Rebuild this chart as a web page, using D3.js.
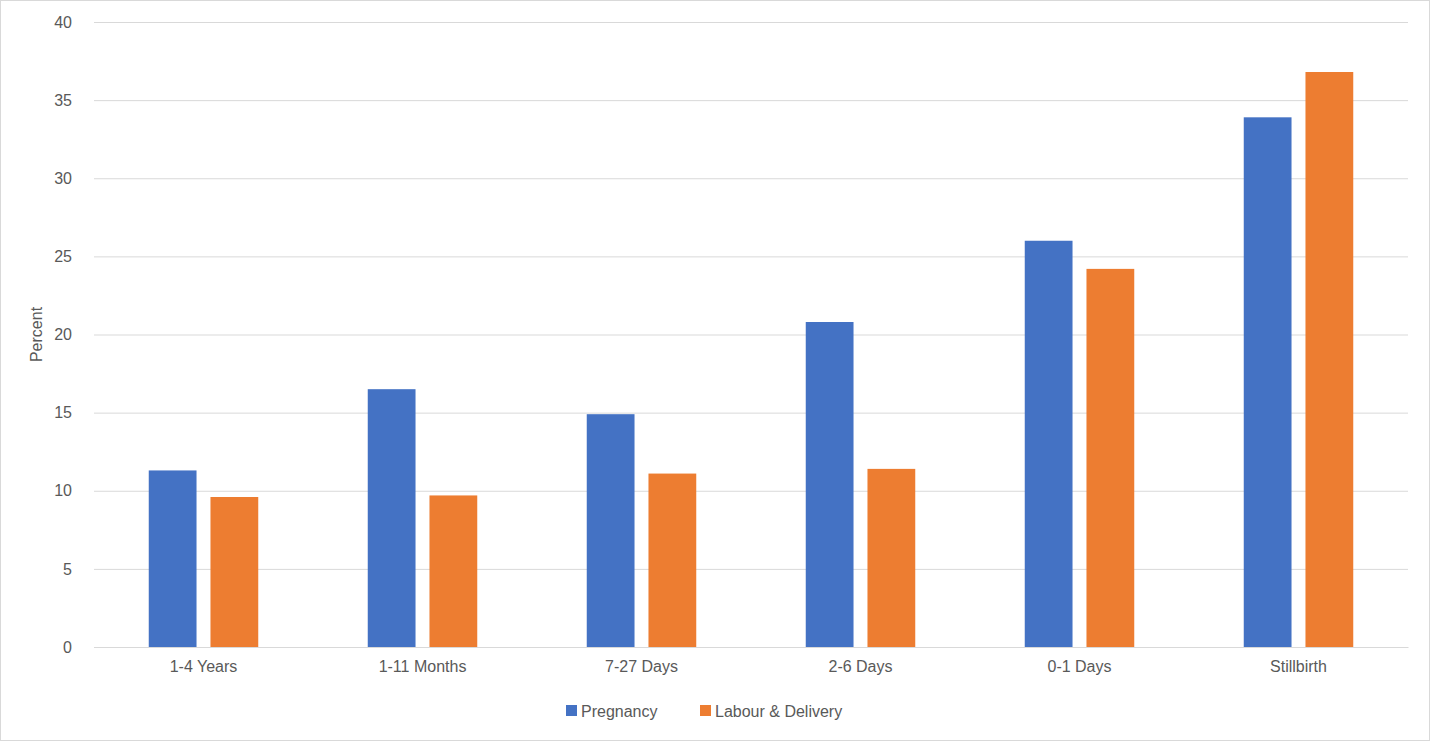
<!DOCTYPE html>
<html>
<head>
<meta charset="utf-8">
<script src="https://d3js.org/d3.v7.min.js"></script>
<style>
body { margin: 0; background: #fff; font-family: "Liberation Sans", Arial, sans-serif; }
</style>
</head>
<body>
<div id="chart"></div>
<script>
// Data
const categories = ["1-4 Years", "1-11 Months", "7-27 Days", "2-6 Days", "0-1 Days", "Stillbirth"];
const seriesNames = ["Pregnancy", "Labour & Delivery"];
const pregnancy = [11.3, 16.5, 14.9, 20.8, 26.0, 33.9];
const labour = [9.6, 9.7, 11.1, 11.4, 24.2, 36.8];
const yTicks = [0, 5, 10, 15, 20, 25, 30, 35, 40];

const colors = ["#4472c4", "#ed7d31"];
const values = [pregnancy, labour];

const width = 1431, height = 742;
const margin = { top: 22, right: 23, bottom: 95, left: 94 };
const innerW = width - margin.left - margin.right;
const innerH = height - margin.top - margin.bottom;

const svg = d3.select("#chart").append("svg")
	.attr("width", width).attr("height", height);

svg.append("rect")
	.attr("x", 0.5).attr("y", 0.5)
	.attr("width", width - 2).attr("height", height - 2)
	.attr("fill", "#fff").attr("stroke", "#d9d9d9");

const g = svg.append("g").attr("transform", `translate(${margin.left},${margin.top})`);

const x0 = d3.scaleBand().domain(categories).range([0, innerW]).paddingInner(0.5).paddingOuter(0.25);
const x1 = d3.scaleBand().domain(seriesNames).range([0, x0.bandwidth()]).paddingInner(0.226);
const y = d3.scaleLinear().domain([0, 40]).range([innerH, 0]);

// gridlines
g.append("g")
	.call(d3.axisLeft(y).tickValues(yTicks).tickSize(-innerW).tickFormat(d => d))
	.call(a => a.select(".domain").remove())
	.call(a => a.selectAll("line").attr("stroke", "#d9d9d9"))
	.call(a => a.selectAll("text").attr("fill", "#595959").style("font-size", "16px").attr("x", -22));

// bars
categories.forEach((c, i) => {
	seriesNames.forEach((s, j) => {
		g.append("rect")
			.attr("x", x0(c) + x1(s))
			.attr("y", y(values[j][i]))
			.attr("width", x1.bandwidth())
			.attr("height", innerH - y(values[j][i]))
			.attr("fill", colors[j]);
	});
});

// x axis
g.append("g")
	.attr("transform", `translate(0,${innerH})`)
	.call(d3.axisBottom(x0).tickSize(0).tickPadding(14))
	.call(a => a.select(".domain").attr("stroke", "#d9d9d9"))
	.call(a => a.selectAll("text").attr("fill", "#595959").style("font-size", "16px"));

// y label
svg.append("text")
	.attr("transform", `translate(42,${margin.top + innerH / 2}) rotate(-90)`)
	.attr("text-anchor", "middle")
	.attr("fill", "#595959").style("font-size", "16px")
	.text("Percent");

// legend
const legend = svg.append("g").attr("transform", "translate(566,711)");
let lx = 0;
seriesNames.forEach((s, j) => {
	legend.append("rect").attr("x", lx).attr("y", -6).attr("width", 11).attr("height", 11).attr("fill", colors[j]);
	legend.append("text").attr("x", lx + 15).attr("y", 6)
		.attr("fill", "#595959").style("font-size", "16px").text(s);
	lx += 134;
});
</script>
</body>
</html>
